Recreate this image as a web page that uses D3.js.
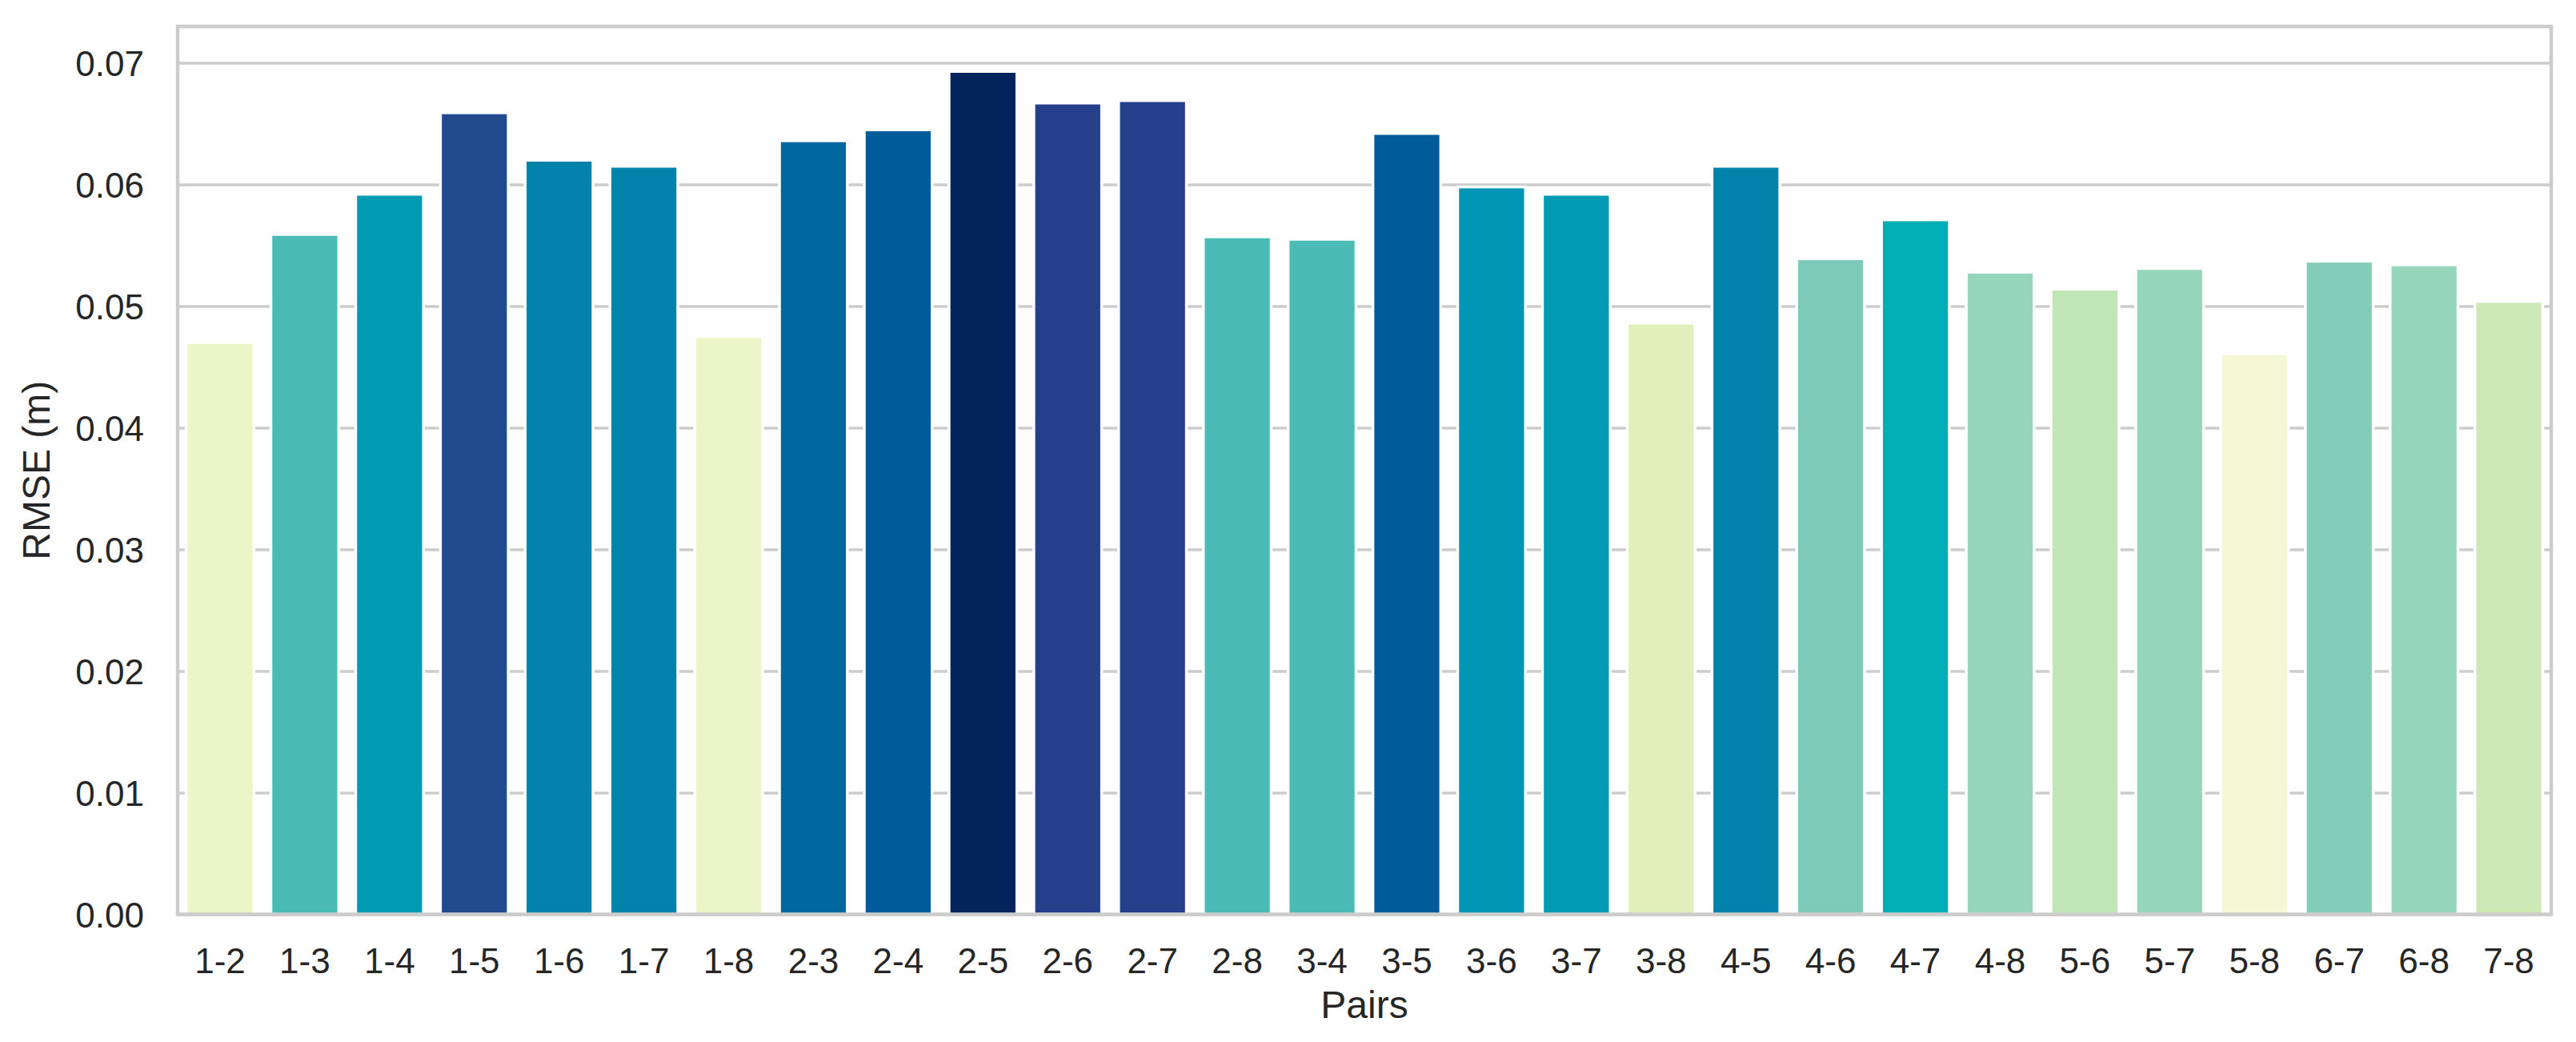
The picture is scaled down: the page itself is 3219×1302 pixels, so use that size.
<!DOCTYPE html>
<html>
<head>
<meta charset="utf-8">
<script src="https://cdn.jsdelivr.net/npm/d3@7"></script>
<style>
  html, body { margin: 0; padding: 0; background: #ffffff; }
  svg { display: block; }
  text { font-family: "Liberation Sans", Arial, sans-serif; fill: #262626; }
</style>
</head>
<body>
<svg id="chart" width="3219" height="1302"></svg>
<script>
// ---- data ----
const pairs = ["1-2","1-3","1-4","1-5","1-6","1-7","1-8","2-3","2-4","2-5","2-6","2-7","2-8",
               "3-4","3-5","3-6","3-7","3-8","4-5","4-6","4-7","4-8","5-6","5-7","5-8","6-7","6-8","7-8"];
const rmse = [0.0470,0.0559,0.0592,0.0659,0.0620,0.0615,0.0475,0.0636,0.0645,0.0693,0.0667,0.0669,0.0557,
              0.0555,0.0642,0.0598,0.0592,0.0486,0.0615,0.0539,0.0571,0.0528,0.0514,0.0531,0.0461,0.0537,0.0534,0.0504];
const yTicks = [0.00,0.01,0.02,0.03,0.04,0.05,0.06,0.07];
const yDomainMax = 0.073;
const xTitle = "Pairs";
const yTitle = "RMSE (m)";

// palette (YlGnBu-like, as rendered in the reference), position in [0,1] -> colour
const paletteStops  = [0, 0.04, 0.06, 0.11, 0.185, 0.23, 0.29, 0.315, 0.328, 0.40, 0.425, 0.474, 0.565, 0.59, 0.66, 0.69, 0.754, 0.78, 0.80, 0.853, 0.888, 0.90, 1];
const paletteColors = ["#f4f8d4","#ecf5c8","#ecf5c8","#e0f0b9","#cce9b6","#c0e6b8","#96d6bb","#96d6bb","#82ccb7","#4abbb5","#4abbb5","#00aeb6","#009bb3","#0095b5","#0082ab","#0082ab","#00689f","#005b9a","#005b9a","#214a8f","#263f8b","#263f8b","#03235c"];

// ---- layout ----
const W = 3219, H = 1302;
const plot = { left: 222, top: 33, right: 3188, bottom: 1142.5 };

const svg = d3.select("#chart");
svg.append("rect").attr("width", W).attr("height", H).attr("fill", "#ffffff");

const x = d3.scaleBand().domain(pairs).range([plot.left, plot.right]).paddingInner(0.2).paddingOuter(0.1);
const y = d3.scaleLinear().domain([0, yDomainMax]).range([plot.bottom, plot.top]);

const vmin = d3.min(rmse), vmax = d3.max(rmse);
const norm = d3.scaleLinear().domain([vmin, vmax]).range([0, 1]).clamp(true);
const pal = d3.scaleLinear().domain(paletteStops).range(paletteColors).interpolate(d3.interpolateRgb);
const color = v => pal(norm(v));

// grid
const grid = svg.append("g")
  .attr("transform", `translate(${plot.left},0)`)
  .call(d3.axisLeft(y).tickValues(yTicks).tickSize(-(plot.right - plot.left)).tickFormat(""));
grid.select(".domain").remove();
grid.selectAll(".tick line").attr("stroke", "#cccccc").attr("stroke-width", 3.5);

// bars
const data = pairs.map((p, i) => ({ pair: p, value: rmse[i] }));
svg.append("g").selectAll("rect.bar").data(data).join("rect")
  .attr("class", "bar")
  .attr("x", d => x(d.pair))
  .attr("width", x.bandwidth())
  .attr("y", d => y(d.value))
  .attr("height", d => y(0) - y(d.value))
  .attr("fill", d => color(d.value))
  .attr("stroke", "#ffffff")
  .attr("stroke-width", 3.5);

// frame (spines)
svg.append("rect")
  .attr("x", plot.left).attr("y", plot.top)
  .attr("width", plot.right - plot.left).attr("height", plot.bottom - plot.top)
  .attr("fill", "none").attr("stroke", "#cccccc").attr("stroke-width", 4.5);

// y axis labels
const yAxis = svg.append("g")
  .attr("transform", `translate(${plot.left},0)`)
  .call(d3.axisLeft(y).tickValues(yTicks).tickSize(0).tickPadding(42).tickFormat(d3.format(".2f")));
yAxis.select(".domain").remove();
yAxis.selectAll("text").attr("font-size", 44).attr("font-family", null).attr("dy", "0.36em");

// x axis labels
const xAxis = svg.append("g")
  .attr("transform", `translate(0,${plot.bottom})`)
  .call(d3.axisBottom(x).tickSize(0).tickPadding(0));
xAxis.select(".domain").remove();
xAxis.selectAll("text").attr("font-size", 44).attr("font-family", null).attr("dy", null).attr("y", 73);

// titles
svg.append("text")
  .attr("x", (plot.left + plot.right) / 2).attr("y", 1272)
  .attr("text-anchor", "middle").attr("font-size", 48)
  .text(xTitle);

svg.append("text")
  .attr("transform", `translate(62,${(plot.top + plot.bottom) / 2}) rotate(-90)`)
  .attr("text-anchor", "middle").attr("font-size", 48)
  .text(yTitle);
</script>
</body>
</html>
